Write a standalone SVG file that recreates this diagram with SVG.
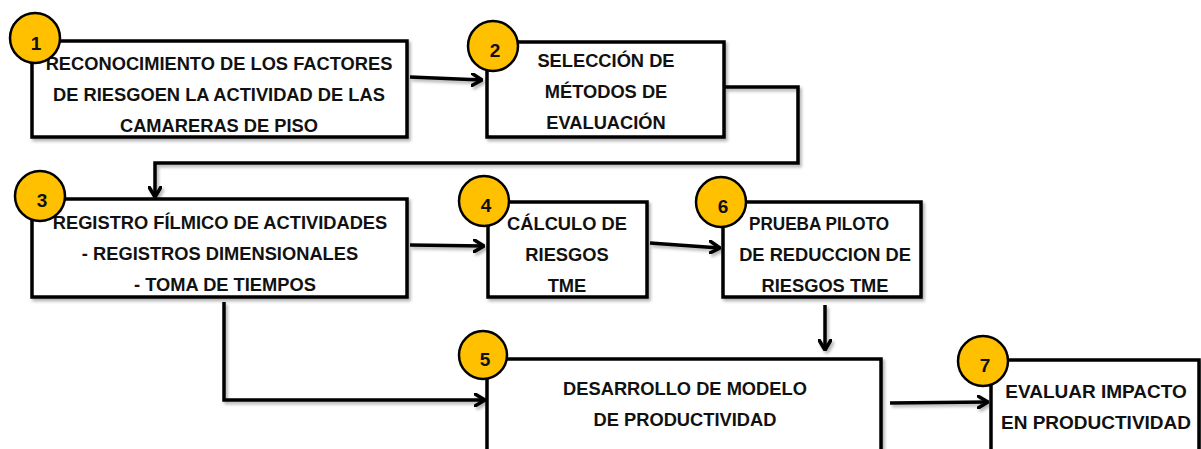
<svg xmlns="http://www.w3.org/2000/svg" width="1201" height="449" viewBox="0 0 1201 449">
<defs>
<filter id="sh" filterUnits="userSpaceOnUse" x="0" y="0" width="1201" height="449">
<feDropShadow dx="2" dy="2.5" stdDeviation="1.5" flood-color="#000" flood-opacity="0.3"/>
</filter>
<marker id="ah" viewBox="0 0 12 14" refX="11" refY="7" markerWidth="12" markerHeight="14" markerUnits="userSpaceOnUse" orient="auto">
<path d="M1,1 L11,7 L1,13" fill="none" stroke="#000" stroke-width="3.5" stroke-linecap="round" stroke-linejoin="round"/>
</marker>
</defs>
<style>
.box{fill:#fff;stroke:#000;stroke-width:3.5;filter:url(#sh)}
.num{fill:#FFC000;stroke:#000;stroke-width:2.5}
.t{font-family:"Liberation Sans",Arial,sans-serif;font-weight:bold;font-size:18.3px;fill:#111;text-anchor:middle}
.d{font-family:"Liberation Sans",Arial,sans-serif;font-weight:bold;font-size:19px;fill:#111;text-anchor:middle}
.c{fill:none;stroke:#000;stroke-width:3.5;marker-end:url(#ah);filter:url(#sh)}
</style>
<rect width="1201" height="449" fill="#fff"/>
<g id="connectors">
<path class="c" d="M410,77 L482,80"/>
<path class="c" d="M725,87 H798 V163 H155 V197"/>
<path class="c" d="M410,245 L484,246"/>
<path class="c" d="M650,243 L720,248"/>
<path class="c" d="M825,305 V350"/>
<path class="c" d="M224,302 V400 H485"/>
<path class="c" d="M890,403 L988,402"/>
</g>
<g id="node1">
<rect class="box" x="32" y="41" width="375" height="96"/>
<text class="t" x="219" y="70">RECONOCIMIENTO DE LOS FACTORES</text>
<text class="t" x="219" y="101">DE RIESGOEN LA ACTIVIDAD DE LAS</text>
<text class="t" x="219" y="132">CAMARERAS DE PISO</text>
<circle class="num" cx="35" cy="38" r="25"/>
<text class="d" x="36" y="50">1</text>
</g>
<g id="node2">
<rect class="box" x="487" y="42" width="237" height="95"/>
<text class="t" x="606" y="67">SELECCIÓN DE</text>
<text class="t" x="606" y="98">MÉTODOS DE</text>
<text class="t" x="606" y="129">EVALUACIÓN</text>
<circle class="num" cx="493" cy="46" r="25"/>
<text class="d" x="495" y="57">2</text>
</g>
<g id="node3">
<rect class="box" x="32" y="199" width="375" height="98"/>
<text class="t" x="220" y="229">REGISTRO FÍLMICO DE ACTIVIDADES</text>
<text class="t" x="220" y="260">- REGISTROS DIMENSIONALES</text>
<text class="t" x="225" y="291">- TOMA DE TIEMPOS</text>
<circle class="num" cx="40" cy="196" r="25"/>
<text class="d" x="42" y="207">3</text>
</g>
<g id="node4">
<rect class="box" x="488" y="202" width="159" height="95"/>
<text class="t" x="567" y="230">CÁLCULO DE</text>
<text class="t" x="567" y="261">RIESGOS</text>
<text class="t" x="567" y="292">TME</text>
<circle class="num" cx="484" cy="201" r="25"/>
<text class="d" x="486" y="212">4</text>
</g>
<g id="node6">
<rect class="box" x="723" y="202" width="198" height="95"/>
<text class="t" x="819" y="230" textLength="140" lengthAdjust="spacingAndGlyphs">PRUEBA PILOTO</text>
<text class="t" x="825" y="261">DE REDUCCION DE</text>
<text class="t" x="825" y="292">RIESGOS TME</text>
<circle class="num" cx="721" cy="202" r="25"/>
<text class="d" x="723" y="213">6</text>
</g>
<g id="node5">
<rect class="box" x="487" y="359" width="394" height="110"/>
<text class="t" x="685" y="395">DESARROLLO DE MODELO</text>
<text class="t" x="685" y="426">DE PRODUCTIVIDAD</text>
<circle class="num" cx="483" cy="355" r="24"/>
<text class="d" x="485" y="366">5</text>
</g>
<g id="node7">
<rect class="box" x="991" y="360" width="208" height="110"/>
<text class="t" x="1096" y="398" style="font-size:19px">EVALUAR IMPACTO</text>
<text class="t" x="1096" y="429" style="font-size:19px">EN PRODUCTIVIDAD</text>
<circle class="num" cx="983" cy="361" r="25"/>
<text class="d" x="985" y="372">7</text>
</g>
</svg>
